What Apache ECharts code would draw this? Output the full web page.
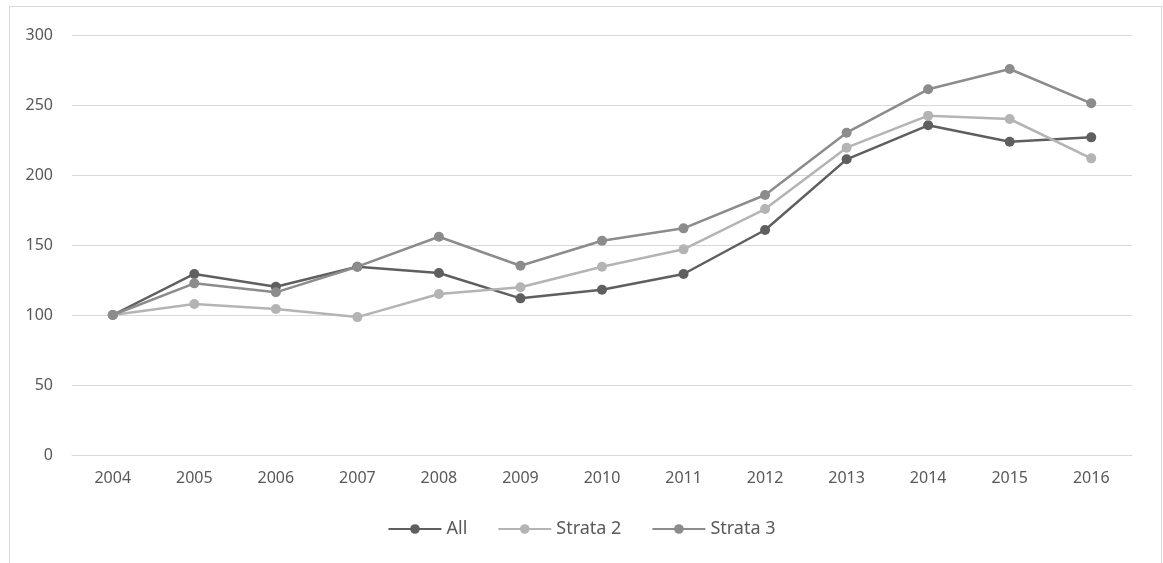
<!DOCTYPE html>
<html>
<head>
<meta charset="utf-8">
<script src="https://cdn.jsdelivr.net/npm/echarts@6/dist/echarts.min.js"></script>
<style>
	html, body { margin: 0; padding: 0; background: #fff; }
	#frame {
		position: absolute; left: 9px; top: 6px; width: 1153px; height: 560px;
		border: 1px solid #d9d9d9; border-bottom: none; box-sizing: border-box;
	}
	#main { position: absolute; left: 0; top: 0; width: 1163px; height: 563px; }
</style>
</head>
<body>
<div id="frame"></div>
<div id="main"></div>
<script>
	var years = ['2004','2005','2006','2007','2008','2009','2010','2011','2012','2013','2014','2015','2016'];
	var allVals = [100, 129.3, 120.2, 134.5, 130, 111.9, 118, 129.3, 160.7, 211.2, 235.5, 223.8, 226.9];
	var strata2 = [100, 107.9, 104.3, 98.5, 115, 119.8, 134.5, 146.9, 175.7, 219.5, 242.4, 240, 211.9];
	var strata3 = [100, 122.6, 116.2, 134.5, 155.9, 135.2, 153, 161.9, 185.7, 230.2, 261.2, 275.7, 251.2];

	var myChart = echarts.init(document.getElementById('main'));
	var font = '"Noto Sans", "Open Sans", sans-serif';

	function line(name, data, color) {
		return {
			name: name,
			type: 'line',
			data: data,
			symbol: 'circle',
			symbolSize: 10,
			itemStyle: { color: color },
			lineStyle: { color: color, width: 2.5 },
			emphasis: { disabled: true }
		};
	}

	var option = {
		animation: false,
		grid: { left: 72, right: 31, top: 35, bottom: 108 },
		legend: {
			top: 515,
			left: 'center',
			itemWidth: 53,
			itemHeight: 12,
			itemGap: 30,
			textStyle: { fontFamily: font, fontSize: 18, color: '#595959' },
			data: ['All', 'Strata 2', 'Strata 3']
		},
		xAxis: {
			type: 'category',
			data: years,
			boundaryGap: true,
			axisLine: { lineStyle: { color: '#d9d9d9', width: 1 } },
			axisTick: { show: false },
			axisLabel: { fontFamily: font, fontSize: 16, color: '#595959', margin: 15 }
		},
		yAxis: {
			type: 'value',
			min: 0,
			max: 300,
			interval: 50,
			axisLine: { show: false },
			axisTick: { show: false },
			splitLine: { lineStyle: { color: '#d9d9d9', width: 1 } },
			axisLabel: { fontFamily: font, fontSize: 16, color: '#595959', margin: 19 }
		},
		series: [
			line('All', allVals, '#5f5f5f'),
			line('Strata 2', strata2, '#b4b4b4'),
			line('Strata 3', strata3, '#8c8c8c')
		]
	};

	option && myChart.setOption(option);
</script>
</body>
</html>
